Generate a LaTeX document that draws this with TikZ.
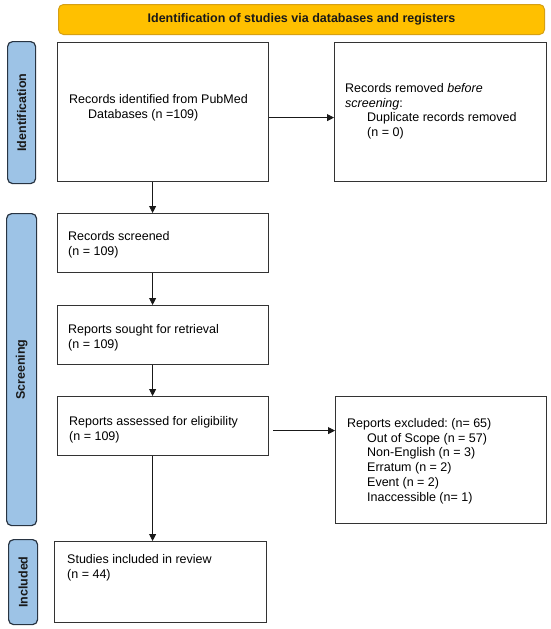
\documentclass[tikz,border=0pt]{standalone}
\usepackage{fontspec}
\setmainfont{Liberation Sans}
\usetikzlibrary{arrows.meta}

\begin{document}
\begin{tikzpicture}[x=1pt,y=-1pt,
  box/.style={draw=boxColor,line width=1.2pt,fill=white,anchor=north west,inner sep=0pt},
  txt/.style={anchor=north west,align=left,inner sep=0pt,font=\frenchspacing\fontsize{12.5}{14.8}\selectfont},
  phase/.style={draw=tabBorder,line width=1.2pt,fill=tabColor,rounded corners=5pt,anchor=north west,inner sep=0pt},
  phasetxt/.style={rotate=90,inner sep=0pt,font=\bfseries\fontsize{12.5}{15}\selectfont,text=textColor},
  arr/.style={-{Triangle[length=7pt,width=7pt]},line width=0.8pt,draw=textColor}]
\definecolor{boxColor}{gray}{0.20}
\definecolor{textColor}{gray}{0.10}
\definecolor{tabColor}{RGB}{157,195,230}
\definecolor{tabBorder}{RGB}{40,52,66}
\definecolor{bannerColor}{RGB}{255,192,0}
\definecolor{bannerBorder}{RGB}{214,160,20}
\useasboundingbox[fill=white] (0,0) rectangle (550,629);

\node[draw=bannerBorder,line width=1pt,fill=bannerColor,rounded corners=5pt,anchor=north west,inner sep=0pt,
  minimum width=486pt,minimum height=30pt] (banner) at (58,4) {};
\node[inner sep=0pt,font=\bfseries\fontsize{12.5}{15}\selectfont,text=textColor] (bannertxt) at (banner.center)
  {Identification of studies via databases and registers};

\node[phase,minimum width=28pt,minimum height=142pt] (identtab) at (7,41) {};
\node[phasetxt] (identlbl) at (identtab.center) {Identification};
\node[phase,minimum width=30pt,minimum height=312pt] (screentab) at (6,213) {};
\node[phasetxt] (screenlbl) at (screentab.center) {Screening};
\node[phase,minimum width=29pt,minimum height=85pt] (incltab) at (8,539) {};
\node[phasetxt] (incllbl) at (incltab.center) {Included};

\node[box,minimum width=211pt,minimum height=139pt] (ident) at (57,42) {};
\node[txt] (identtxt) at (69,94) {Records identified from PubMed\\\hspace*{19pt}Databases (n =109)};

\node[box,minimum width=212pt,minimum height=139pt] (removed) at (334,42) {};
\node[txt] (removedtxt) at (345,83) {Records removed \textit{before}\\\textit{screening}:\\
  \hspace*{22pt}Duplicate records removed\\\hspace*{22pt}(n = 0)};

\node[box,minimum width=211pt,minimum height=59pt] (screened) at (57,213) {};
\node[txt] (screenedtxt) at (68,231) {Records screened\\(n = 109)};

\node[box,minimum width=211pt,minimum height=59pt] (sought) at (57,305) {};
\node[txt] (soughttxt) at (68,324) {Reports sought for retrieval\\(n = 109)};

\node[box,minimum width=211pt,minimum height=59pt] (assessed) at (57,396) {};
\node[txt] (assessedtxt) at (69,416) {Reports assessed for eligibility\\(n = 109)};

\node[box,minimum width=211pt,minimum height=127pt] (excluded) at (335,396) {};
\node[txt] (excludedtxt) at (347,418) {Reports excluded: (n= 65)\\
  \hspace*{20pt}Out of Scope (n = 57)\\\hspace*{20pt}Non-English (n = 3)\\
  \hspace*{20pt}Erratum (n = 2)\\\hspace*{20pt}Event (n = 2)\\\hspace*{20pt}Inaccessible (n= 1)};

\node[box,minimum width=212pt,minimum height=81pt] (included) at (54,541) {};
\node[txt] (includedtxt) at (67,554) {Studies included in review\\(n = 44)};

\draw[arr] ([yshift=-5.5pt]ident.east) -- ([yshift=-5.5pt]ident.east -| removed.west);
\draw[arr] ([xshift=-10.5pt]ident.south) -- ([xshift=-10.5pt]screened.north);
\draw[arr] ([xshift=-10.5pt]screened.south) -- ([xshift=-10.5pt]sought.north);
\draw[arr] ([xshift=-10.5pt]sought.south) -- ([xshift=-10.5pt]assessed.north);
\draw[arr,shorten <=4pt] ([yshift=-4.5pt]assessed.east) -- ([yshift=-4.5pt]assessed.east -| excluded.west);
\draw[arr] ([xshift=-10.5pt]assessed.south) -- ([xshift=-10.5pt]assessed.south |- included.north);
\end{tikzpicture}
\end{document}
